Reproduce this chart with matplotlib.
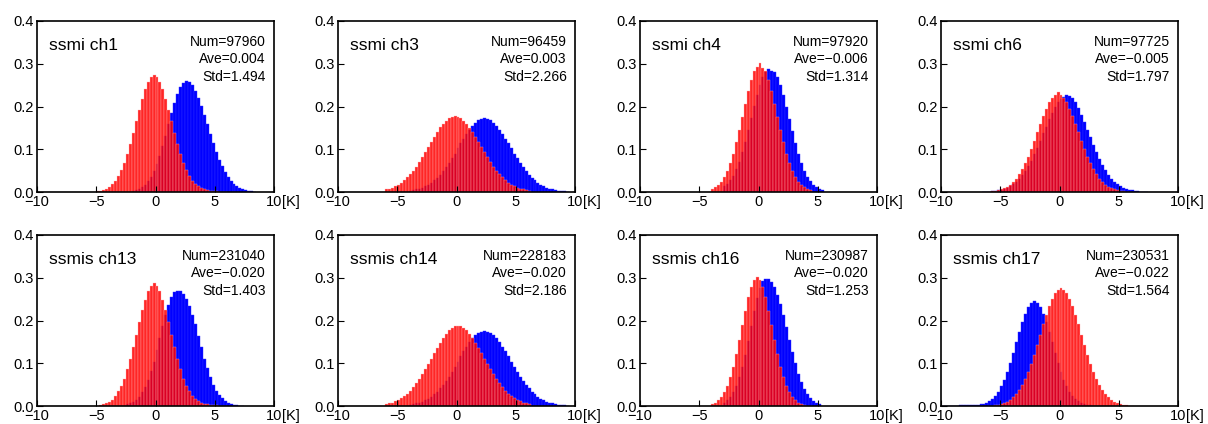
import matplotlib
matplotlib.use("Agg")
import matplotlib.pyplot as plt
import numpy as np

plt.rcParams['font.family'] = ['Liberation Sans', 'DejaVu Sans']

BIN = 0.25

# histogram heights (density), bins of 0.25 K starting at the given left edge
red_ch1_start = -5.0
red_ch1 = [0.002, 0.003, 0.005, 0.008, 0.012, 0.018, 0.026, 0.037, 0.051, 0.068, 0.088, 0.112, 0.138, 0.165,
           0.192, 0.218, 0.240, 0.257, 0.268, 0.274, 0.268, 0.257, 0.240, 0.218, 0.192, 0.165, 0.138, 0.112,
           0.088, 0.068, 0.051, 0.037, 0.026, 0.018, 0.013, 0.009, 0.006, 0.004, 0.003, 0.002, 0.002, 0.001,
           0.001, 0.001]
blue_ch1_start = -2.0
blue_ch1 = [0.003, 0.005, 0.008, 0.011, 0.017, 0.025, 0.035, 0.048, 0.065, 0.085, 0.107, 0.132, 0.158, 0.184,
            0.208, 0.229, 0.246, 0.256, 0.260, 0.257, 0.250, 0.237, 0.221, 0.202, 0.180, 0.158, 0.135, 0.114,
            0.094, 0.076, 0.060, 0.046, 0.035, 0.026, 0.019, 0.014, 0.010, 0.007, 0.005, 0.003, 0.002, 0.001]

red_ch3_start = -6.0
red_ch3 = [0.006, 0.008, 0.010, 0.013, 0.017, 0.022, 0.027, 0.034, 0.041, 0.050, 0.059, 0.070, 0.081, 0.093,
           0.105, 0.117, 0.129, 0.140, 0.151, 0.160, 0.167, 0.173, 0.176, 0.178, 0.176, 0.172, 0.167, 0.159,
           0.150, 0.140, 0.129, 0.117, 0.105, 0.093, 0.081, 0.070, 0.059, 0.050, 0.041, 0.034, 0.027, 0.022,
           0.017, 0.013, 0.010, 0.008, 0.006, 0.004, 0.003]
blue_ch3_start = -4.0
blue_ch3 = [0.003, 0.004, 0.006, 0.008, 0.010, 0.013, 0.017, 0.021, 0.027, 0.033, 0.040, 0.049, 0.058, 0.068,
            0.079, 0.090, 0.102, 0.114, 0.125, 0.136, 0.146, 0.155, 0.162, 0.168, 0.171, 0.174, 0.171, 0.168,
            0.162, 0.155, 0.146, 0.136, 0.125, 0.114, 0.102, 0.090, 0.079, 0.068, 0.058, 0.049, 0.040, 0.033,
            0.027, 0.021, 0.017, 0.013, 0.010, 0.008, 0.006, 0.004, 0.003, 0.002, 0.002, 0.001]

red_ch4_start = -4.0
red_ch4 = [0.007, 0.011, 0.016, 0.024, 0.035, 0.050, 0.068, 0.090, 0.116, 0.145, 0.176, 0.207, 0.236, 0.263,
           0.283, 0.292, 0.302, 0.290, 0.283, 0.263, 0.236, 0.207, 0.176, 0.145, 0.116, 0.090, 0.068, 0.050,
           0.035, 0.024, 0.016, 0.011, 0.007, 0.004]
blue_ch4_start = -3.0
blue_ch4 = [0.013, 0.019, 0.027, 0.038, 0.053, 0.071, 0.093, 0.117, 0.144, 0.173, 0.201, 0.228, 0.251, 0.270,
            0.281, 0.287, 0.284, 0.280, 0.268, 0.250, 0.227, 0.200, 0.171, 0.142, 0.115, 0.090, 0.068, 0.050,
            0.036, 0.025, 0.017, 0.011, 0.007, 0.004]

red_ch6_start = -6.0
red_ch6 = [0.001, 0.002, 0.003, 0.004, 0.006, 0.009, 0.012, 0.017, 0.023, 0.031, 0.041, 0.053, 0.067, 0.083,
           0.101, 0.120, 0.140, 0.159, 0.178, 0.195, 0.210, 0.221, 0.228, 0.233, 0.228, 0.221, 0.210, 0.195,
           0.178, 0.159, 0.140, 0.120, 0.101, 0.083, 0.067, 0.053, 0.041, 0.031, 0.023, 0.017, 0.012, 0.009,
           0.006, 0.004, 0.003, 0.002, 0.001, 0.001, 0.001]
blue_ch6_start = -6.5
blue_ch6 = [0.001, 0.001, 0.001, 0.002, 0.002, 0.004, 0.005, 0.007, 0.010, 0.014, 0.018, 0.024, 0.030, 0.039,
            0.049, 0.060, 0.073, 0.088, 0.103, 0.119, 0.137, 0.153, 0.170, 0.185, 0.198, 0.210, 0.218, 0.223,
            0.227, 0.224, 0.220, 0.210, 0.196, 0.181, 0.164, 0.146, 0.128, 0.110, 0.093, 0.077, 0.063, 0.051,
            0.040, 0.031, 0.024, 0.018, 0.014, 0.010, 0.007, 0.005, 0.004, 0.002, 0.002, 0.001, 0.001, 0.001]

red_ch13_start = -5.0
red_ch13 = [0.001, 0.002, 0.004, 0.006, 0.010, 0.015, 0.023, 0.034, 0.047, 0.064, 0.086, 0.110, 0.138, 0.167,
            0.197, 0.225, 0.249, 0.268, 0.281, 0.287, 0.281, 0.268, 0.249, 0.225, 0.197, 0.167, 0.138, 0.110,
            0.086, 0.064, 0.047, 0.034, 0.024, 0.016, 0.011, 0.007, 0.005, 0.004, 0.003, 0.002, 0.002, 0.001,
            0.001, 0.001]
blue_ch13_start = -2.5
blue_ch13 = [0.004, 0.006, 0.009, 0.015, 0.022, 0.032, 0.045, 0.061, 0.081, 0.104, 0.130, 0.158, 0.186, 0.213,
             0.236, 0.254, 0.266, 0.270, 0.268, 0.262, 0.250, 0.235, 0.214, 0.191, 0.164, 0.137, 0.111, 0.088,
             0.067, 0.050, 0.036, 0.026, 0.018, 0.012, 0.008, 0.005, 0.003, 0.002, 0.001, 0.001]

red_ch14_start = -6.0
red_ch14 = [0.004, 0.006, 0.008, 0.011, 0.014, 0.018, 0.023, 0.029, 0.036, 0.044, 0.053, 0.063, 0.074, 0.086,
            0.098, 0.111, 0.124, 0.136, 0.148, 0.159, 0.169, 0.177, 0.182, 0.186, 0.188, 0.186, 0.182, 0.177,
            0.169, 0.159, 0.148, 0.136, 0.124, 0.111, 0.098, 0.086, 0.074, 0.063, 0.053, 0.044, 0.036, 0.029,
            0.023, 0.018, 0.014, 0.011, 0.008, 0.006, 0.004]
blue_ch14_start = -4.0
blue_ch14 = [0.003, 0.004, 0.006, 0.008, 0.010, 0.013, 0.017, 0.022, 0.027, 0.033, 0.041, 0.049, 0.059, 0.069,
             0.080, 0.092, 0.104, 0.116, 0.128, 0.139, 0.149, 0.158, 0.165, 0.171, 0.174, 0.176, 0.174, 0.171,
             0.165, 0.158, 0.149, 0.139, 0.128, 0.116, 0.104, 0.092, 0.080, 0.069, 0.059, 0.049, 0.041, 0.033,
             0.027, 0.022, 0.017, 0.013, 0.010, 0.008, 0.006, 0.004, 0.003, 0.002, 0.002, 0.001]

red_ch16_start = -4.0
red_ch16 = [0.005, 0.008, 0.013, 0.021, 0.032, 0.047, 0.067, 0.092, 0.121, 0.154, 0.189, 0.223, 0.254, 0.279,
            0.295, 0.301, 0.295, 0.279, 0.254, 0.223, 0.189, 0.154, 0.121, 0.092, 0.067, 0.047, 0.032, 0.021,
            0.013, 0.008, 0.005, 0.003, 0.001, 0.001]
blue_ch16_start = -3.0
blue_ch16 = [0.008, 0.013, 0.021, 0.032, 0.047, 0.067, 0.091, 0.120, 0.153, 0.188, 0.222, 0.252, 0.277, 0.293,
             0.298, 0.296, 0.290, 0.278, 0.260, 0.238, 0.212, 0.184, 0.155, 0.127, 0.100, 0.076, 0.056, 0.040,
             0.028, 0.019, 0.012, 0.008, 0.005]

red_ch17_start = -6.0
red_ch17 = [0.001, 0.001, 0.002, 0.003, 0.005, 0.007, 0.010, 0.014, 0.020, 0.028, 0.037, 0.049, 0.063, 0.080,
            0.099, 0.120, 0.143, 0.167, 0.191, 0.213, 0.233, 0.251, 0.264, 0.272, 0.276, 0.272, 0.264, 0.251,
            0.233, 0.213, 0.191, 0.167, 0.143, 0.120, 0.099, 0.080, 0.063, 0.049, 0.037, 0.028, 0.020, 0.014,
            0.010, 0.007, 0.005, 0.003, 0.002, 0.001, 0.001]
blue_ch17_start = -10.0
blue_ch17 = [0.001, 0.001, 0.001, 0.001, 0.001, 0.001, 0.002, 0.002, 0.002, 0.002, 0.003, 0.003, 0.003, 0.004,
             0.005, 0.007, 0.011, 0.016, 0.024, 0.033, 0.046, 0.061, 0.080, 0.101, 0.124, 0.149, 0.173, 0.196,
             0.216, 0.232, 0.242, 0.246, 0.242, 0.232, 0.216, 0.196, 0.173, 0.149, 0.124, 0.101, 0.080, 0.061,
             0.046, 0.033, 0.024, 0.016, 0.011, 0.007, 0.004, 0.003, 0.002, 0.001, 0.001, 0.001, 0.001, 0.001,
             0.001, 0.001]

titles = ['ssmi ch1', 'ssmi ch3', 'ssmi ch4', 'ssmi ch6',
          'ssmis ch13', 'ssmis ch14', 'ssmis ch16', 'ssmis ch17']
nums = [97960, 96459, 97920, 97725, 231040, 228183, 230987, 230531]
aves = ['0.004', '0.003', '\u22120.006', '\u22120.005',
        '\u22120.020', '\u22120.020', '\u22120.020', '\u22120.022']
stds = ['1.494', '2.266', '1.314', '1.797', '1.403', '2.186', '1.253', '1.564']

blues = [(blue_ch1_start, blue_ch1), (blue_ch3_start, blue_ch3), (blue_ch4_start, blue_ch4),
         (blue_ch6_start, blue_ch6), (blue_ch13_start, blue_ch13), (blue_ch14_start, blue_ch14),
         (blue_ch16_start, blue_ch16), (blue_ch17_start, blue_ch17)]
reds = [(red_ch1_start, red_ch1), (red_ch3_start, red_ch3), (red_ch4_start, red_ch4),
        (red_ch6_start, red_ch6), (red_ch13_start, red_ch13), (red_ch14_start, red_ch14),
        (red_ch16_start, red_ch16), (red_ch17_start, red_ch17)]

xticks = [-10, -5, 0, 5, 10]
xticklabels = ['\u221210', '\u22125', '0', '5', '10']
yticks = [0.0, 0.1, 0.2, 0.3, 0.4]

fig = plt.figure(figsize=(12.08, 4.24), dpi=100)
lefts = [37, 338, 640, 941]
bottoms = [192, 406]
W, H = 1208.0, 424.0


def centers(start, vals):
    return start + BIN / 2 + BIN * np.arange(len(vals))


for i in range(8):
    r, c = divmod(i, 4)
    ax = fig.add_axes([lefts[c] / W, (H - bottoms[r]) / H, 237 / W, 171 / H])
    bs, bv = blues[i]
    rs, rv = reds[i]
    ax.bar(centers(bs, bv), bv, width=BIN, color='#0000ff', edgecolor='#3030ff', linewidth=0.3)
    ax.bar(centers(rs, rv), rv, width=BIN, color='#ff0000', alpha=0.85,
           edgecolor='#ffb0b0', linewidth=0.3)
    ax.set_xlim(-10, 10)
    ax.set_ylim(0, 0.4)
    ax.set_xticks(xticks)
    ax.set_xticklabels(xticklabels)
    ax.set_yticks(yticks)
    ax.set_yticklabels(['%.1f' % v for v in yticks])
    ax.tick_params(direction='in', length=4, width=0.8, labelsize=10.5, pad=2)
    for s in ax.spines.values():
        s.set_linewidth(1.2)
    ax.annotate('[K]', xy=(1, 0), xycoords='axes fraction', xytext=(5.6, -2),
                textcoords='offset points', ha='left', va='top', fontsize=10.5)
    ax.text(0.05, 0.855, titles[i], transform=ax.transAxes, fontsize=12.5, va='center', ha='left')
    ax.text(0.966, 0.877, 'Num=%d' % nums[i], transform=ax.transAxes, fontsize=10,
            va='center', ha='right')
    ax.text(0.966, 0.775, 'Ave=' + aves[i], transform=ax.transAxes, fontsize=10,
            va='center', ha='right')
    ax.text(0.966, 0.672, 'Std=' + stds[i], transform=ax.transAxes, fontsize=10,
            va='center', ha='right')

fig.savefig('out.png', dpi=100)
